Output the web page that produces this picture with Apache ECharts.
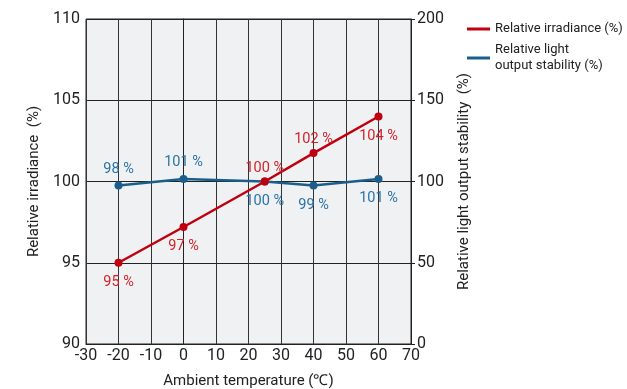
<!DOCTYPE html>
<html><head><meta charset="utf-8">
<script src="https://cdn.jsdelivr.net/npm/echarts@6/dist/echarts.min.js"></script>
<style>html,body{margin:0;padding:0;background:#fff}#c{width:627px;height:389px}</style>
</head><body><div id="c"></div>
<script>
const temps = [-20, 0, 25, 40, 60];
const irradiance = [95.0, 97.2, 100.0, 101.75, 104.0];
const irradianceLabels = ['95 %', '97 %', '100 %', '102 %', '104 %'];
const irradianceLabelPos = ['bottom', 'bottom', 'top', 'top', 'bottom'];
const stability = [97.6, 101.5, 100.0, 97.6, 101.5];
const stabilityLabels = ['98 %', '101 %', '100 %', '99 %', '101 %'];
const stabilityLabelPos = ['top', 'top', 'bottom', 'bottom', 'bottom'];
const leftTicks = [90, 110, 5];
const rightTicks = [0, 200, 50];
const xTicks = [-30, 70, 10];

const RED = '#c00010', RED_T = '#d2232a', BLUE = '#1b5e8c', BLUE_T = '#2a73a8';
const FONT = 'Roboto';
function pts(xs, ys, labels, pos, topDist, botDist) {
  return xs.map((x, i) => ({ value: [x, ys[i]], label: { position: pos[i], formatter: labels[i], distance: pos[i] === 'top' ? topDist : botDist } }));
}
const chart = echarts.init(document.getElementById('c'));
chart.setOption({
  animation: false,
  textStyle: { fontFamily: FONT },
  grid: { left: 86, right: 216, top: 19, bottom: 45, show: true, backgroundColor: '#f0f1f3', borderColor: '#222', borderWidth: 1, outerBoundsMode: 'none', containLabel: false },
  legend: {
    orient: 'vertical', left: 462, top: 16, itemWidth: 23, itemHeight: 3, itemGap: 5,
    icon: 'rect',
    textStyle: { fontFamily: FONT, fontSize: 13, color: '#222', lineHeight: 16 },
    formatter: n => n === 'Relative light output stability (%)' ? 'Relative light\noutput stability (%)' : n,
    data: ['Relative irradiance (%)', 'Relative light output stability (%)']
  },
  xAxis: {
    type: 'value', min: xTicks[0], max: xTicks[1], interval: xTicks[2],
    name: 'Ambient temperature (℃)', nameLocation: 'middle', nameGap: 30,
    nameTextStyle: { fontFamily: FONT, fontSize: 15, color: '#222' },
    axisLine: { lineStyle: { color: '#222', width: 1 } },
    axisTick: { show: false },
    axisLabel: { fontFamily: FONT, fontSize: 16, color: '#222', margin: 4 },
    splitLine: { show: true, lineStyle: { color: '#333', width: 1 } }
  },
  yAxis: [{
    type: 'value', min: leftTicks[0], max: leftTicks[1], interval: leftTicks[2],
    name: 'Relative irradiance  (%)', nameLocation: 'middle', nameGap: 38, nameRotate: 90,
    nameTextStyle: { fontFamily: FONT, fontSize: 15, color: '#222' },
    axisLine: { show: true, lineStyle: { color: '#222', width: 1 } },
    axisTick: { show: true, length: 4, lineStyle: { color: '#222' } },
    axisLabel: { fontFamily: FONT, fontSize: 16, color: '#222', margin: 6 },
    splitLine: { show: true, lineStyle: { color: '#222', width: 1 } }
  }, {
    type: 'value', min: rightTicks[0], max: rightTicks[1], interval: rightTicks[2], position: 'right',
    name: 'Relative light output stability  (%)', nameLocation: 'middle', nameGap: 46, nameRotate: 90,
    nameTextStyle: { fontFamily: FONT, fontSize: 15, color: '#222' },
    axisLine: { show: true, lineStyle: { color: '#222', width: 1 } },
    axisTick: { show: true, length: 4, lineStyle: { color: '#222' } },
    axisLabel: { fontFamily: FONT, fontSize: 16, color: '#222', margin: 6 },
    splitLine: { show: false }
  }],
  series: [{
    name: 'Relative irradiance (%)', type: 'line', yAxisIndex: 0,
    data: pts(temps, irradiance, irradianceLabels, irradianceLabelPos, 2, 8),
    symbol: 'circle', symbolSize: 8, color: RED,
    lineStyle: { color: RED, width: 2.5 }, itemStyle: { color: RED },
    label: { show: true, color: RED_T, fontFamily: FONT, fontSize: 14.5 },
    z: 3
  }, {
    name: 'Relative light output stability (%)', type: 'line', yAxisIndex: 1,
    data: pts(temps, stability, stabilityLabels, stabilityLabelPos, 5, 8),
    symbol: 'circle', symbolSize: 8, color: BLUE,
    lineStyle: { color: BLUE, width: 2.5 }, itemStyle: { color: BLUE },
    label: { show: true, color: BLUE_T, fontFamily: FONT, fontSize: 14.5 },
    z: 2
  }]
});
</script></body></html>
